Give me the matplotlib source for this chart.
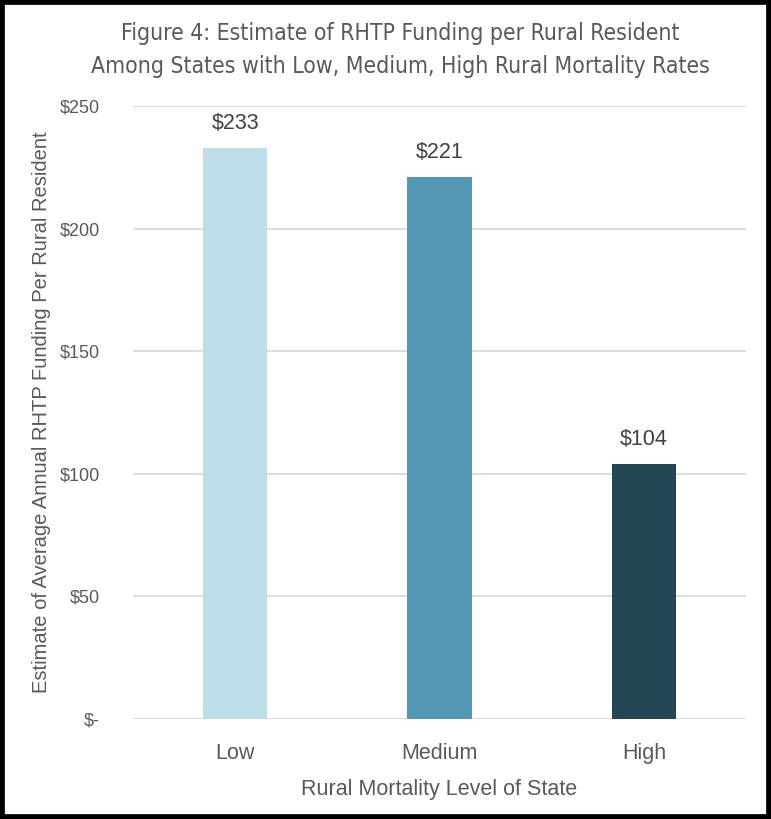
import matplotlib
matplotlib.use("Agg")
import matplotlib.pyplot as plt
from matplotlib.patches import Rectangle
import matplotlib.ticker as mticker

# data
categories = ["Low", "Medium", "High"]
funding = [233, 221, 104]
bar_colors = ["#BDDDE9", "#5397B5", "#234654"]
y_ticks = [0, 50, 100, 150, 200, 250]

plt.rcParams['font.family'] = ['Liberation Sans', 'DejaVu Sans']
text_gray = "#595959"

fig = plt.figure(figsize=(7.71, 8.19), dpi=100)
ax = fig.add_axes([133 / 771, 1 - 719 / 819, 613 / 771, 613 / 819])

x = range(len(categories))
bars = ax.bar(x, funding, width=0.315, color=bar_colors, zorder=3)

for b, v in zip(bars, funding):
    ax.annotate(f"${v}", (b.get_x() + b.get_width() / 2, v),
                xytext=(0, 10), textcoords="offset points",
                ha="center", va="bottom", fontsize=15.5, color="#404040")

ax.set_xlim(-0.5, len(categories) - 0.5)
ax.set_ylim(0, 250)
ax.set_yticks(y_ticks)
ax.yaxis.set_major_formatter(mticker.FuncFormatter(
    lambda v, p: "$-" if v == 0 else f"${int(v)}"))
ax.set_xticks(list(x))
ax.set_xticklabels(categories, fontsize=15.5, color=text_gray)
ax.tick_params(axis="y", labelsize=13, labelcolor=text_gray, length=0, pad=24)
ax.tick_params(axis="x", length=0, pad=17)

ax.grid(axis="y", color="#D9D9D9", linewidth=1.3, zorder=0)
for s in ax.spines.values():
    s.set_visible(False)

ax.set_xlabel("Rural Mortality Level of State", fontsize=15.5, color=text_gray, labelpad=11)
fig.text(42 / 771, 1 - 412 / 819, "Estimate of Average Annual RHTP Funding Per Rural Resident",
         rotation=90, ha="center", va="center", fontsize=14.5, color=text_gray)

fig.text(400 / 771, 1 - 50 / 819,
         "Figure 4: Estimate of RHTP Funding per Rural Resident\n"
         "Among States with Low, Medium, High Rural Mortality Rates",
         ha="center", va="center", fontsize=16.5, color=text_gray, linespacing=1.55,
         family='DejaVu Sans', fontstretch='condensed')

# black frame around the whole picture
fig.patches.append(Rectangle((0, 0), 1, 1, transform=fig.transFigure,
                             fill=False, edgecolor="black", linewidth=7))

fig.savefig("out.png", dpi=100)
